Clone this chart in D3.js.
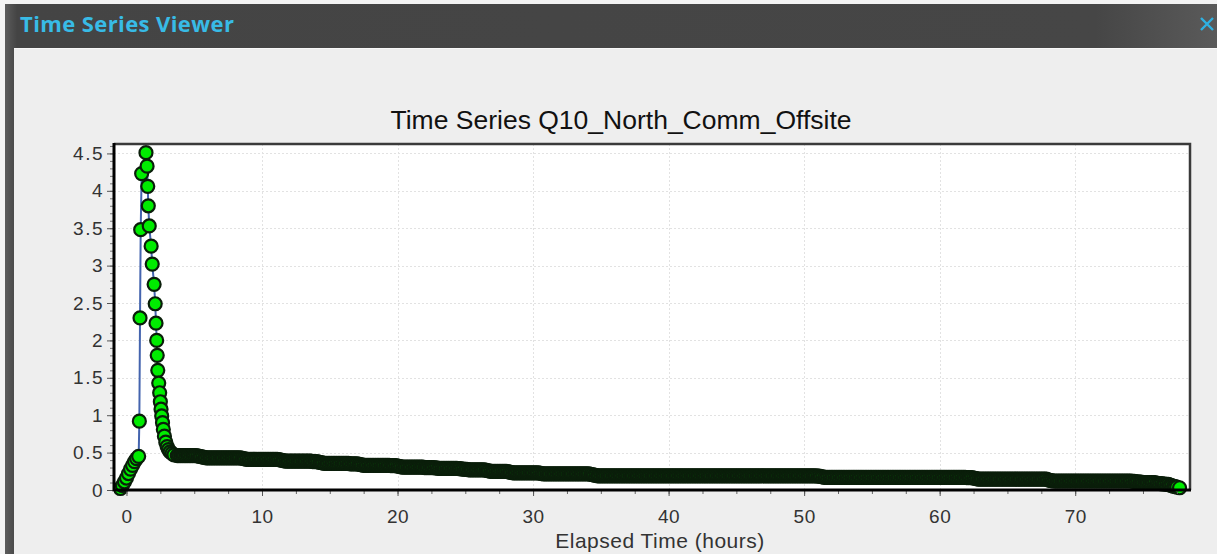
<!DOCTYPE html>
<html>
<head>
<meta charset="utf-8">
<script src="https://cdn.jsdelivr.net/npm/d3@7"></script>
<style>
  html, body { margin: 0; padding: 0; background: #f3f3f3; overflow: hidden; }
  svg { display: block; }
</style>
</head>
<body>
<svg id="viewer" width="1217" height="554"></svg>
<script>
// ---- Data: Q10_North_Comm_Offsite flow series ----
// Storm rise and peak (irregular report times, hours)
const peakHours = [-0.45, -0.3, -0.15, 0, 0.15, 0.3, 0.45, 0.6, 0.75, 0.9,
  0.95, 1.0, 1.05, 1.12,
  1.44, 1.52, 1.57, 1.61, 1.68, 1.82, 1.9, 2.04, 2.12, 2.18, 2.23, 2.27, 2.31,
  2.38, 2.45, 2.5, 2.55, 2.6, 2.66, 2.72, 2.8, 2.9, 3.0, 3.1, 3.22, 3.36, 3.5];
const peakFlows = [0.02, 0.06, 0.11, 0.16, 0.22, 0.28, 0.33, 0.38, 0.42, 0.45,
  0.92, 2.3, 3.48, 4.23,
  4.51, 4.33, 4.06, 3.8, 3.53, 3.26, 3.02, 2.75, 2.49, 2.23, 2.0, 1.8, 1.6,
  1.43, 1.3, 1.18, 1.08, 0.99, 0.9, 0.81, 0.72, 0.64, 0.58, 0.54, 0.51, 0.49, 0.47];

// Recession limb, reported every 0.125 h starting at 3.75 h (one row per hour)
const recessionStart = 3.75;
const recessionStep = 0.125;
const recessionFlows = [
  0.46, 0.46,
  0.46, 0.46, 0.46, 0.46, 0.46, 0.46, 0.46, 0.46,                  // 4 h
  0.46, 0.46, 0.455, 0.45, 0.445, 0.44, 0.435, 0.43,
  0.43, 0.43, 0.43, 0.43, 0.43, 0.43, 0.43, 0.43,
  0.43, 0.43, 0.43, 0.43, 0.43, 0.43, 0.43, 0.43,
  0.43, 0.43, 0.43, 0.43, 0.425, 0.42, 0.415, 0.41,
  0.41, 0.41, 0.41, 0.41, 0.41, 0.41, 0.41, 0.41,
  0.41, 0.41, 0.41, 0.41, 0.41, 0.41, 0.41, 0.41,                  // 10 h
  0.41, 0.41, 0.405, 0.40, 0.395, 0.39, 0.385, 0.385,
  0.385, 0.385, 0.385, 0.385, 0.385, 0.385, 0.385, 0.385,
  0.385, 0.385, 0.385, 0.385, 0.385, 0.385, 0.38, 0.38,
  0.38, 0.375, 0.37, 0.365, 0.36, 0.355, 0.355, 0.355,
  0.355, 0.355, 0.355, 0.355, 0.355, 0.355, 0.355, 0.355,
  0.355, 0.355, 0.355, 0.355, 0.35, 0.35, 0.35, 0.35,
  0.35, 0.345, 0.34, 0.335, 0.33, 0.33, 0.33, 0.33,
  0.33, 0.33, 0.33, 0.33, 0.33, 0.33, 0.33, 0.33,
  0.33, 0.33, 0.33, 0.33, 0.325, 0.325, 0.325, 0.325,
  0.32, 0.315, 0.31, 0.305, 0.305, 0.305, 0.305, 0.305,            // 20 h
  0.305, 0.305, 0.305, 0.305, 0.305, 0.305, 0.305, 0.305,
  0.30, 0.30, 0.30, 0.30, 0.30, 0.30, 0.295, 0.295,
  0.29, 0.29, 0.29, 0.29, 0.29, 0.29, 0.29, 0.29,
  0.29, 0.29, 0.29, 0.29, 0.285, 0.285, 0.28, 0.28,
  0.275, 0.275, 0.27, 0.27, 0.27, 0.27, 0.27, 0.27,
  0.27, 0.27, 0.27, 0.27, 0.265, 0.26, 0.255, 0.25,
  0.25, 0.25, 0.25, 0.25, 0.25, 0.25, 0.25, 0.25,
  0.25, 0.245, 0.24, 0.235, 0.23, 0.23, 0.23, 0.23,
  0.23, 0.23, 0.23, 0.23, 0.23, 0.23, 0.23, 0.23,
  0.23, 0.23, 0.23, 0.23, 0.225, 0.22, 0.215, 0.215,               // 30 h
  0.215, 0.215, 0.215, 0.215, 0.215, 0.215, 0.215, 0.215,
  0.215, 0.215, 0.215, 0.215, 0.215, 0.215, 0.215, 0.215,
  0.215, 0.215, 0.215, 0.215, 0.215, 0.215, 0.215, 0.215,
  0.215, 0.215, 0.21, 0.205, 0.20, 0.195, 0.19, 0.19,
  0.19, 0.19, 0.19, 0.19, 0.19, 0.19, 0.19, 0.19,
  0.19, 0.19, 0.19, 0.19, 0.19, 0.19, 0.19, 0.19,
  0.19, 0.19, 0.19, 0.19, 0.19, 0.19, 0.19, 0.19,
  0.19, 0.19, 0.19, 0.19, 0.19, 0.19, 0.19, 0.19,
  0.19, 0.19, 0.19, 0.19, 0.19, 0.19, 0.19, 0.19,
  0.19, 0.19, 0.19, 0.19, 0.19, 0.19, 0.19, 0.19,                  // 40 h
  0.19, 0.19, 0.19, 0.19, 0.19, 0.19, 0.19, 0.19,
  0.19, 0.19, 0.19, 0.19, 0.19, 0.19, 0.19, 0.19,
  0.19, 0.19, 0.19, 0.19, 0.19, 0.19, 0.19, 0.19,
  0.19, 0.19, 0.19, 0.19, 0.19, 0.19, 0.19, 0.19,
  0.19, 0.19, 0.19, 0.19, 0.19, 0.19, 0.19, 0.19,
  0.19, 0.19, 0.19, 0.19, 0.19, 0.19, 0.19, 0.19,
  0.19, 0.19, 0.19, 0.19, 0.19, 0.19, 0.19, 0.19,
  0.19, 0.19, 0.19, 0.19, 0.19, 0.19, 0.19, 0.19,
  0.19, 0.19, 0.19, 0.19, 0.19, 0.19, 0.19, 0.19,
  0.19, 0.19, 0.19, 0.19, 0.19, 0.19, 0.19, 0.19,                  // 50 h
  0.185, 0.185, 0.18, 0.175, 0.17, 0.168, 0.168, 0.168,
  0.168, 0.168, 0.168, 0.168, 0.168, 0.168, 0.168, 0.168,
  0.168, 0.168, 0.168, 0.168, 0.168, 0.168, 0.168, 0.168,
  0.168, 0.168, 0.168, 0.168, 0.168, 0.168, 0.168, 0.168,
  0.168, 0.168, 0.168, 0.168, 0.168, 0.168, 0.168, 0.168,
  0.168, 0.168, 0.168, 0.168, 0.168, 0.168, 0.168, 0.168,
  0.168, 0.168, 0.168, 0.168, 0.168, 0.168, 0.168, 0.168,
  0.168, 0.168, 0.168, 0.168, 0.168, 0.168, 0.168, 0.168,
  0.168, 0.168, 0.168, 0.168, 0.168, 0.168, 0.168, 0.168,
  0.168, 0.168, 0.168, 0.168, 0.168, 0.168, 0.168, 0.168,          // 60 h
  0.168, 0.168, 0.168, 0.168, 0.168, 0.168, 0.168, 0.168,
  0.165, 0.165, 0.165, 0.165, 0.16, 0.155, 0.15, 0.145,
  0.145, 0.145, 0.145, 0.145, 0.145, 0.145, 0.145, 0.145,
  0.145, 0.145, 0.145, 0.145, 0.145, 0.145, 0.145, 0.145,
  0.145, 0.145, 0.145, 0.145, 0.145, 0.145, 0.145, 0.145,
  0.145, 0.145, 0.145, 0.145, 0.145, 0.145, 0.145, 0.145,
  0.145, 0.145, 0.145, 0.145, 0.145, 0.145, 0.145, 0.145,
  0.135, 0.13, 0.125, 0.12, 0.12, 0.12, 0.12, 0.12,
  0.12, 0.12, 0.12, 0.12, 0.12, 0.12, 0.12, 0.12,
  0.12, 0.12, 0.12, 0.12, 0.12, 0.12, 0.12, 0.12,                  // 70 h
  0.12, 0.12, 0.12, 0.12, 0.12, 0.12, 0.12, 0.12,
  0.12, 0.12, 0.12, 0.12, 0.12, 0.12, 0.12, 0.12,
  0.12, 0.12, 0.12, 0.12, 0.12, 0.12, 0.12, 0.12,
  0.12, 0.12, 0.115, 0.115, 0.11, 0.11, 0.105, 0.105,
  0.10, 0.10, 0.10, 0.10, 0.10, 0.10, 0.10, 0.10,
  0.09, 0.09, 0.085, 0.085, 0.08, 0.08, 0.075, 0.075,
  0.065, 0.06, 0.05, 0.045, 0.04                                    // 77 h
];

// Final report
const tailHours = [77.7];
const tailFlows = [0.03];

// Axis ticks
const xTicks = [0, 10, 20, 30, 40, 50, 60, 70];
const yTicks = [0, 0.5, 1, 1.5, 2, 2.5, 3, 3.5, 4, 4.5];

const chartTitle = "Time Series Q10_North_Comm_Offsite";
const xAxisTitle = "Elapsed Time (hours)";
const windowTitle = "Time Series Viewer";

// ---- Assemble series ----
const series = [];
peakHours.forEach((h, i) => series.push({ t: h, q: peakFlows[i] }));
recessionFlows.forEach((q, i) => series.push({ t: recessionStart + i * recessionStep, q }));
tailHours.forEach((h, i) => series.push({ t: h, q: tailFlows[i] }));

// ---- Window frame ----
const svg = d3.select("#viewer");
const W = 1217, H = 554;
const defs = svg.append("defs");

const barGrad = defs.append("linearGradient").attr("id", "barGrad")
  .attr("x1", 0).attr("x2", 1).attr("y1", 0).attr("y2", 0);
barGrad.append("stop").attr("offset", "0").attr("stop-color", "#5c5c5c");
barGrad.append("stop").attr("offset", "0.01").attr("stop-color", "#444444");
barGrad.append("stop").attr("offset", "0.9").attr("stop-color", "#464646");
barGrad.append("stop").attr("offset", "1").attr("stop-color", "#5a5a5a");

svg.append("rect").attr("x", 0).attr("y", 0).attr("width", W).attr("height", H)
  .attr("fill", "#f3f3f3");
svg.append("rect").attr("x", 5).attr("y", 4).attr("width", W - 5).attr("height", H - 4)
  .attr("fill", "url(#barGrad)");
// content panel
svg.append("rect").attr("x", 14).attr("y", 48).attr("width", W - 14).attr("height", H - 48)
  .attr("fill", "#eeeeee");
svg.append("line").attr("x1", 14).attr("x2", W).attr("y1", 48.5).attr("y2", 48.5)
  .attr("stroke", "#f8f8f8").attr("stroke-width", 1);

svg.append("text").attr("x", 20).attr("y", 32)
  .attr("font-family", "'Open Sans', 'Liberation Sans', Arial, sans-serif")
  .attr("font-weight", "bold").attr("font-size", 22)
  .attr("letter-spacing", 0.4)
  .attr("fill", "#38bbe6")
  .text(windowTitle);

// close button
svg.append("path")
  .attr("d", "M1201,18 L1213,30 M1213,18 L1201,30")
  .attr("stroke", "#2fb0e0").attr("stroke-width", 2.4).attr("fill", "none");

// ---- Plot area ----
const plot = { left: 114, right: 1190, top: 144, bottom: 490 };

const x = d3.scaleLinear().domain([-0.92, 78.47]).range([plot.left, plot.right]);
const y = d3.scaleLinear().domain([0, 4.626]).range([plot.bottom, plot.top]);

svg.append("rect")
  .attr("x", plot.left).attr("y", plot.top)
  .attr("width", plot.right - plot.left).attr("height", plot.bottom - plot.top)
  .attr("fill", "#ffffff");

// grid
const grid = svg.append("g").attr("stroke", "#e2e2e2").attr("stroke-width", 1)
  .attr("stroke-dasharray", "2,2");
grid.selectAll(".gx").data(xTicks.filter(d => d > 0)).join("line")
  .attr("x1", d => Math.round(x(d)) + 0.5).attr("x2", d => Math.round(x(d)) + 0.5)
  .attr("y1", plot.top).attr("y2", plot.bottom);
grid.selectAll(".gy").data(yTicks.filter(d => d > 0)).join("line")
  .attr("y1", d => Math.round(y(d)) + 0.5).attr("y2", d => Math.round(y(d)) + 0.5)
  .attr("x1", plot.left).attr("x2", plot.right);

// series clip
defs.append("clipPath").attr("id", "plotClip").append("rect")
  .attr("x", plot.left).attr("y", plot.top - 1)
  .attr("width", plot.right - plot.left).attr("height", plot.bottom - plot.top + 8);

const marks = svg.append("g").attr("clip-path", "url(#plotClip)");

marks.append("path")
  .datum(series)
  .attr("fill", "none")
  .attr("stroke", "#4464ae")
  .attr("stroke-width", 2)
  .attr("d", d3.line().x(d => x(d.t)).y(d => y(d.q)));

marks.selectAll("circle").data(series).join("circle")
  .attr("cx", d => x(d.t))
  .attr("cy", d => y(d.q))
  .attr("r", 6.5)
  .attr("fill", "#00ec00")
  .attr("stroke", "#0a1e0a")
  .attr("stroke-width", 2.2);

// frame
svg.append("path")
  .attr("d", `M${plot.left},${plot.top} H${plot.right} V${plot.bottom}`)
  .attr("fill", "none").attr("stroke", "#3a3a3a").attr("stroke-width", 2.5);

// ---- Axes ----
const fontTicks = "'Liberation Sans', Arial, sans-serif";

const xMinor = d3.axisBottom(x).tickValues(d3.range(0, 78, 2.5)).tickSize(4).tickFormat("");
svg.append("g").attr("transform", `translate(0,${plot.bottom})`).call(xMinor)
  .call(g => g.select(".domain").remove())
  .call(g => g.selectAll("line").attr("stroke", "#666"));

const xAxis = d3.axisBottom(x).tickValues(xTicks).tickSize(6).tickPadding(14)
  .tickFormat(d3.format("d"));
svg.append("g").attr("transform", `translate(0,${plot.bottom})`).call(xAxis)
  .call(g => g.select(".domain").remove())
  .call(g => g.selectAll("line").attr("stroke", "#555"))
  .call(g => g.selectAll("text").attr("font-family", fontTicks).attr("font-size", 19)
    .attr("letter-spacing", 0.5).attr("fill", "#333"));

const yMinor = d3.axisLeft(y).tickValues(d3.range(0, 4.61, 0.1)).tickSize(4).tickFormat("");
svg.append("g").attr("transform", `translate(${plot.left},0)`).call(yMinor)
  .call(g => g.select(".domain").remove())
  .call(g => g.selectAll("line").attr("stroke", "#777"));

const yAxis = d3.axisLeft(y).tickValues(yTicks).tickSize(7).tickPadding(3)
  .tickFormat(d => String(d));
svg.append("g").attr("transform", `translate(${plot.left},0)`).call(yAxis)
  .call(g => g.select(".domain").remove())
  .call(g => g.selectAll("line").attr("stroke", "#555"))
  .call(g => g.selectAll("text").attr("font-family", fontTicks).attr("font-size", 19)
    .attr("letter-spacing", 1.5).attr("fill", "#333"));

// black axis lines (left and bottom)
svg.append("path")
  .attr("d", `M${plot.left},${plot.top - 1} V${plot.bottom} H${plot.right + 1}`)
  .attr("fill", "none").attr("stroke", "#000").attr("stroke-width", 3);

// titles
svg.append("text").attr("x", 621).attr("y", 129)
  .attr("text-anchor", "middle")
  .attr("font-family", fontTicks).attr("font-size", 26.5).attr("fill", "#111")
  .text(chartTitle);

svg.append("text").attr("x", 660).attr("y", 548)
  .attr("text-anchor", "middle")
  .attr("font-family", fontTicks).attr("font-size", 21).attr("letter-spacing", 0.5)
  .attr("fill", "#333")
  .text(xAxisTitle);
</script>
</body>
</html>
